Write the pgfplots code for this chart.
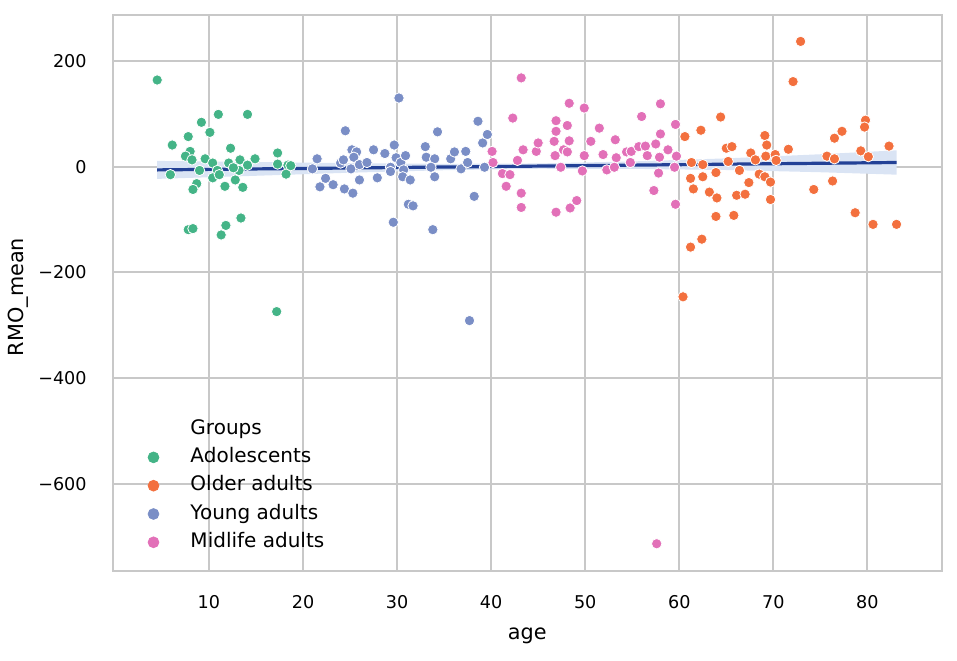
\documentclass[border=0pt]{standalone}
\usepackage{pgfplots}
\pgfplotsset{compat=1.18}
\usepackage{fontspec}
\setmainfont{DejaVu Sans}
\definecolor{cgreen}{RGB}{68,180,135}
\definecolor{corange}{RGB}{243,112,62}
\definecolor{cblue}{RGB}{122,142,198}
\definecolor{cpink}{RGB}{226,112,184}
\definecolor{cline}{RGB}{35,65,150}
\definecolor{cband}{RGB}{218,228,244}
\definecolor{cgrid}{RGB}{200,200,200}
\begin{document}
\begin{tikzpicture}
\useasboundingbox (-56.5bp,-45.15bp) rectangle (422bp,285.35bp);
\begin{axis}[
  scale only axis,
  width=414.35bp, height=277.85bp,
  xmin=-0.2, xmax=87.9, ymin=-764, ymax=287,
  xtick={10,20,30,40,50,60,70,80},
  ytick={-600,-400,-200,0,200},
  yticklabels={−600,−400,−200,0,200},
  /pgf/number format/assume math mode=true,
  major tick length=0pt,
  grid=major,
  major grid style={cgrid, line width=1bp},
  axis line style={cgrid, line width=1bp},
  xticklabel style={font=\fontsize{8.8bp}{10bp}\selectfont, inner sep=0pt, yshift=-12.15bp},
  yticklabel style={font=\fontsize{8.8bp}{10bp}\selectfont, inner sep=0pt, xshift=-13bp},
  xlabel={age}, ylabel={RMO\_mean},
  xlabel style={font=\fontsize{10.4bp}{12bp}\selectfont, at={(axis description cs:0.5,-0.12345)}, anchor=base, inner sep=0pt},
  ylabel style={font=\fontsize{10.4bp}{12bp}\selectfont, at={(axis description cs:-0.1082,0.4925)}, anchor=base, rotate=0, inner sep=0pt},
  legend cell align=left,
  legend style={draw=none, fill=none, inner sep=0pt, at={(axis description cs:0.03825,0.273)}, anchor=north west,
    font=\fontsize{10bp}{12bp}\selectfont,
    nodes={inner sep=0pt, text height=7.5bp, text depth=2.2bp},
    row sep=4.45bp,
    /tikz/every odd column/.append style={column sep=14.3bp}},
  scat/.style={only marks, mark=*, mark size=2.6bp, draw=white, line width=0.4bp, fill=#1,
    legend image code/.code={\path (0bp,0bp) (8bp,0bp); \draw[##1, mark size=2.7bp, draw=#1] plot coordinates {(4bp,0bp)};}},
]
\addlegendimage{empty legend}
\addlegendentry{Groups}
% confidence band
\addplot[fill=cband, draw=none, forget plot] coordinates {
(4.5,11) (15,8.9) (25,6.7) (35,5.4) (45,6.2) (55,10) (65,15.8) (75,23.6) (83.1,31)
(83.1,-15) (75,-10.4) (65,-6.2) (55,-4) (45,-3.8) (35,-6.6) (25,-11.3) (15,-17.1) (4.5,-23)
} -- cycle;
\addplot[scat=cgreen] coordinates {
(4.5,164) (11.0,99) (14.1,99) (9.2,84) (10.1,65) (7.8,57) (6.1,41) (12.3,35) (17.3,26)
(8.0,29) (7.5,20) (8.2,13) (9.6,15) (13.3,13) (14.9,15) (12.1,7) (10.4,7) (17.3,5)
(18.4,3) (14.1,3) (9.0,-7) (10.9,-7) (13.2,-7) (5.9,-15) (10.4,-21) (11.1,-15) (18.2,-14)
(8.7,-32) (8.3,-43) (11.7,-37) (12.8,-25) (13.6,-39) (13.4,-97) (11.8,-111) (7.8,-119)
(8.3,-117) (11.3,-129) (17.2,-274) (18.7,2) (12.6,-2)
};
\addlegendentry{Adolescents}
\addplot[scat=corange] coordinates {
(60.6,57) (62.3,69) (64.4,94) (61.3,8) (62.5,4) (61.2,-22) (62.5,-19) (61.5,-42) (63.9,-11)
(63.2,-48) (64.0,-59) (63.9,-94) (62.4,-137) (61.2,-152) (65.0,35) (65.6,38) (65.2,10)
(66.4,-7) (67.4,-30) (66.1,-54) (67.0,-52) (65.8,-92) (67.6,26) (68.1,13) (68.5,-14)
(69.1,-19) (69.7,-29) (69.1,59) (69.3,41) (69.2,20) (70.2,23) (69.7,-62) (70.3,12)
(71.6,33) (72.1,161) (72.9,237) (74.3,-43) (75.7,20) (76.5,15) (76.3,-27) (76.5,54)
(77.3,67) (78.7,-87) (79.3,30) (79.8,88) (79.7,75) (80.1,19) (80.6,-109) (82.3,39)
(83.1,-109) (60.4,-246)
};
\addlegendentry{Older adults}
\addplot[scat=cblue] coordinates {
(21.5,15) (21.0,-4) (22.4,-22) (21.8,-38) (23.2,-34) (24.5,68) (24.0,7) (24.3,13) (24.4,-42)
(25.3,-50) (25.2,32) (25.7,28) (25.4,18) (25.1,-4) (26.0,-25) (26.0,4) (26.8,8) (27.5,32)
(27.9,-21) (28.7,25) (29.7,41) (30.2,130) (29.3,-1) (29.3,-9) (29.9,17) (30.4,8) (30.9,21)
(30.7,-6) (30.6,-19) (31.4,-25) (31.2,-71) (31.7,-74) (29.6,-105) (33.0,38) (33.1,18)
(34.0,15) (33.6,-1) (34.3,66) (34.0,-19) (33.8,-119) (35.7,15) (36.1,28) (37.3,29)
(36.8,-4) (37.5,8) (38.2,-56) (38.6,86) (39.1,45) (39.6,61) (39.3,-1) (37.7,-291)
};
\addlegendentry{Young adults}
\addplot[scat=cpink] coordinates {
(40.1,29) (40.2,8) (41.2,-13) (42.0,-15) (41.6,-37) (42.3,92) (43.2,168) (43.4,32) (42.8,12)
(43.2,-50) (43.2,-77) (44.8,29) (45.0,45) (46.7,48) (46.9,87) (46.9,67) (46.8,21) (46.9,-86)
(47.7,32) (48.1,28) (48.1,78) (48.3,120) (48.3,49) (48.4,-78) (49.1,-64) (47.4,-1)
(49.9,111) (49.9,21) (49.7,-8) (50.6,48) (51.5,73) (51.9,23) (52.3,-6) (53.3,17) (53.1,-1)
(53.2,51) (54.4,28) (54.9,29) (54.8,8) (56.0,95) (55.7,38) (56.4,39) (56.6,21) (57.5,43)
(58.0,62) (58.0,119) (57.9,18) (57.8,-12) (57.3,-45) (58.8,32) (59.5,-1) (59.6,80)
(59.7,20) (59.6,-71) (57.6,-713)
};
\addlegendentry{Midlife adults}
% regression line
\addplot[cline, line width=1.6bp, forget plot] coordinates {(4.5,-6) (83.1,8)};
\end{axis}
\end{tikzpicture}
\end{document}
